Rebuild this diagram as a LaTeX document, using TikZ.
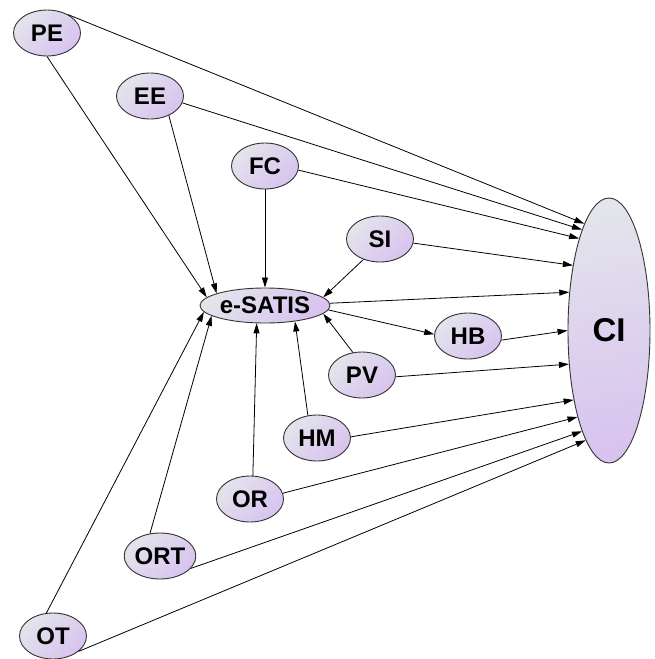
\documentclass[tikz,border=0pt]{standalone}
\usepackage{fontspec}
\setmainfont{Liberation Sans}
\usetikzlibrary{shapes.geometric,arrows.meta}
\definecolor{nodegrey}{HTML}{E3E4EC}
\definecolor{nodelilac}{HTML}{D8C3EF}
\definecolor{rim}{HTML}{333333}
\begin{document}
\begin{tikzpicture}[x=1pt,y=-1pt,
  construct/.style={ellipse, draw=rim, line width=0.9pt, inner sep=0pt,
    minimum width=67pt, minimum height=46pt,
    top color=nodegrey, bottom color=nodelilac, shading angle=45,
    font=\fontsize{24}{27}\selectfont\bfseries, text=black},
  link/.style={draw=black, line width=0.8pt, -{Triangle[length=10pt,width=6pt]}}]
\useasboundingbox (0,0) rectangle (655,659);

% constructs
\node[construct] (PE)  at (47,33)   {PE};
\node[construct] (EE)  at (150,96)  {EE};
\node[construct] (FC)  at (265,166) {FC};
\node[construct] (SI)  at (380,239) {SI};
\node[construct, minimum width=130pt, minimum height=35pt] (eS) at (265,305.5) {e-SATIS};
\node[construct] (HB)  at (468,336) {HB};
\node[construct] (PV)  at (362,375) {PV};
\node[construct] (HM)  at (317,438) {HM};
\node[construct] (OR)  at (250,499) {OR};
\node[construct] (ORT) at (160,556) {ORT};
\node[construct] (OT)  at (53,636)  {OT};
\node[construct, minimum width=82pt, minimum height=265pt, shading angle=10,
      font=\fontsize{33}{36}\selectfont\bfseries] (CI) at (609,330.5) {CI};

% paths into CI
\draw[link] (PE.41)  -- (CI.103);
\draw[link] (EE.-12) -- (CI.105);
\draw[link] (FC.-7)  -- (CI.108);
\draw[link] (SI.-7)  -- (CI.119);
\draw[link] (eS.2)   -- (CI.136);
\draw[link] (HB.-7)  -- (CI.180);
\draw[link] (PV.-3)  -- (CI.220);
\draw[link] (HM.2)   -- (CI.243);
\draw[link] (OR.10)  -- (CI.250);
\draw[link] (ORT.-22) -- (CI.255);
\draw[link] (OT.-31) -- (CI.258);

% paths into e-SATIS
\draw[link] (PE.270)  -- (eS.172);
\draw[link] (EE.-46)  -- (eS.166);
\draw[link] (FC.south) -- (eS.north);
\draw[link] (SI.231)  -- (eS.8);
\draw[link] (PV.112)  -- (eS.-8);
\draw[link] (HM.112)  -- (eS.-28);
\draw[link] (OR.83)   -- (eS.245);
\draw[link] (ORT.114) -- (eS.191);
\draw[link] (OT.106)  -- (eS.186);

% e-SATIS to HB
\draw[link] (eS.-4) -- (HB.177);
\end{tikzpicture}
\end{document}
